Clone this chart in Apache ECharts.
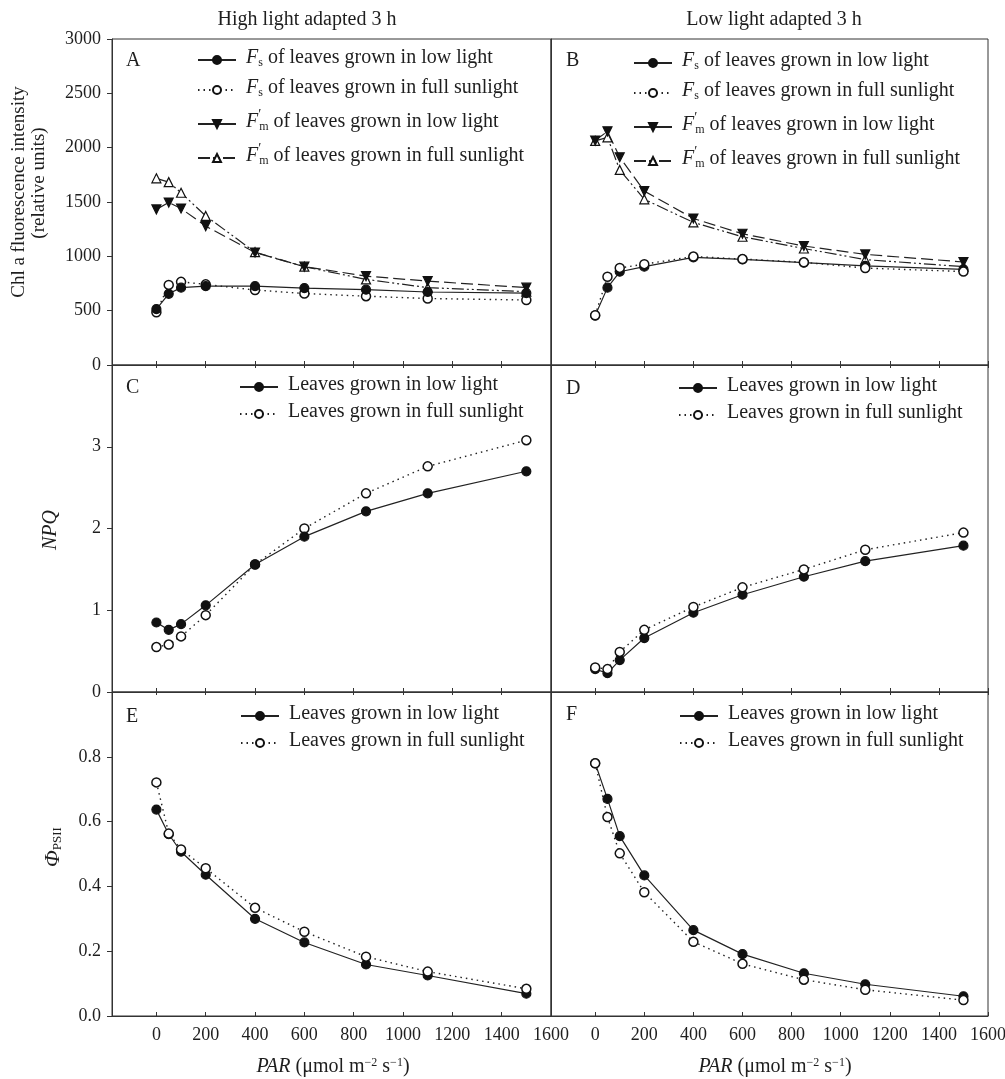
<!DOCTYPE html>
<html><head><meta charset="utf-8">
<script src="https://cdn.jsdelivr.net/npm/echarts@6/dist/echarts.min.js"></script>
<style>html,body{margin:0;padding:0;background:#fff}#c{width:1005px;height:1079px}</style>
</head><body><div id="c"></div>
<script>
// ---- data ----
const PAR = [0, 50, 100, 200, 400, 600, 850, 1100, 1500];
const xTicks = [0, 200, 400, 600, 800, 1000, 1200, 1400, 1600];
// Panel A (High light adapted) fluorescence
const A_fsLow  = [515, 655, 712, 725, 725, 708, 693, 672, 662];
const A_fsFull = [485, 737, 765, 742, 690, 658, 633, 612, 598];
const A_fmLow  = [1432, 1495, 1440, 1278, 1035, 905, 818, 772, 712];
const A_fmFull = [1718, 1683, 1585, 1372, 1038, 905, 788, 712, 675];
// Panel B (Low light adapted) fluorescence
const B_fsLow  = [455, 712, 858, 905, 990, 972, 942, 912, 880];
const B_fsFull = [458, 812, 893, 928, 998, 975, 945, 892, 860];
const B_fmLow  = [2065, 2150, 1912, 1600, 1348, 1208, 1095, 1018, 948];
const B_fmFull = [2062, 2095, 1795, 1525, 1312, 1180, 1072, 970, 905];
// NPQ
const C_low  = [0.85, 0.76, 0.83, 1.06, 1.56, 1.90, 2.21, 2.43, 2.70];
const C_full = [0.55, 0.58, 0.68, 0.94, 1.56, 2.00, 2.43, 2.76, 3.08];
const D_low  = [0.28, 0.23, 0.39, 0.66, 0.97, 1.19, 1.41, 1.60, 1.79];
const D_full = [0.30, 0.28, 0.49, 0.76, 1.04, 1.28, 1.50, 1.74, 1.95];
// PhiPSII
const E_low  = [0.637, 0.561, 0.507, 0.436, 0.300, 0.227, 0.159, 0.125, 0.069];
const E_full = [0.721, 0.563, 0.514, 0.456, 0.334, 0.260, 0.183, 0.137, 0.084];
const F_low  = [0.780, 0.670, 0.555, 0.434, 0.265, 0.191, 0.132, 0.098, 0.061];
const F_full = [0.780, 0.614, 0.502, 0.382, 0.229, 0.161, 0.112, 0.081, 0.049];

const FONT = 'Liberation Serif';
const INK = '#1e1e1e';
const pairs = arr => PAR.map((x, i) => [x, arr[i]]);

const legendText = {
  fsLow:  '{i|F}{s|s}{t| of leaves grown in low light}',
  fsFull: '{i|F}{s|s}{t| of leaves grown in full sunlight}',
  fmLow:  '{i|F}{p|′}{s|m}{t| of leaves grown in low light}',
  fmFull: '{i|F}{p|′}{s|m}{t| of leaves grown in full sunlight}',
  low:    '{t|Leaves grown in low light}',
  full:   '{t|Leaves grown in full sunlight}'
};

const grids = [
  {left: 112, top: 39, width: 439, height: 326},
  {left: 551, top: 39, width: 437, height: 326},
  {left: 112, top: 365, width: 439, height: 327},
  {left: 551, top: 365, width: 437, height: 327},
  {left: 112, top: 692, width: 439, height: 324},
  {left: 551, top: 692, width: 437, height: 324}
].map(g => Object.assign({show: true, borderColor: '#333', borderWidth: 1, backgroundColor: 'transparent', containLabel: false, outerBoundsMode: 'none'}, g));

const xAxes = [];
for (let g = 0; g < 6; g++) {
  const bottomRow = g >= 4;
  xAxes.push({
    type: 'value', gridIndex: g, min: -180, max: 1600, position: 'bottom',
    axisLine: {show: true, onZero: false, lineStyle: {color: '#333', width: 1}},
    axisTick: {show: true, inside: true, length: 4, customValues: xTicks, lineStyle: {color: '#333'}},
    axisLabel: {show: bottomRow, customValues: xTicks, fontFamily: FONT, fontSize: 18, color: INK, margin: 10, formatter: v => String(v)},
    splitLine: {show: false}
  });
  if (g >= 2) {
    xAxes.push({
      type: 'value', gridIndex: g, min: -180, max: 1600, position: 'top',
      axisLine: {show: false, onZero: false},
      axisTick: {show: true, inside: true, length: 3, customValues: xTicks, lineStyle: {color: '#333'}},
      axisLabel: {show: false}, splitLine: {show: false}
    });
  }
}
// map grid -> bottom xAxis index
const xIdx = [0, 1, 2, 4, 6, 8];

const yRanges = [
  {min: 0, max: 3000, interval: 500},
  {min: 0, max: 4, interval: 1},
  {min: 0, max: 1, interval: 0.2}
];
const yAxes = [];
for (let g = 0; g < 6; g++) {
  const r = yRanges[Math.floor(g / 2)];
  const left = g % 2 === 0;
  const row = Math.floor(g / 2);
  yAxes.push({
    type: 'value', gridIndex: g, min: r.min, max: r.max, interval: r.interval, position: 'left',
    axisLine: {show: true, onZero: false, lineStyle: {color: '#333', width: 1}},
    axisTick: {show: left, inside: false, length: 5, lineStyle: {color: '#333'}},
    axisLabel: {
      show: left, fontFamily: FONT, fontSize: 18, color: INK, margin: 11,
      showMaxLabel: row === 0,
      formatter: row === 2 ? (v => v.toFixed(1)) : (v => String(v))
    },
    splitLine: {show: false}
  });
}

function mk(name, g, arr, kind) {
  const s = {
    name: name, type: 'line', xAxisIndex: xIdx[g], yAxisIndex: g, data: pairs(arr),
    symbolSize: 9, z: 3, animation: false,
    lineStyle: {color: '#222', width: 1.2},
    itemStyle: {color: '#111', borderColor: '#111', borderWidth: 1.2}
  };
  if (kind === 'filledCircle') { s.symbol = 'circle'; s.lineStyle.type = 'solid'; }
  if (kind === 'openCircle') { s.symbol = 'circle'; s.symbolSize = 9; s.itemStyle = {color: '#fff', borderColor: '#111', borderWidth: 1.5}; s.lineStyle.type = [1.5, 4]; s.lineStyle.width = 1.4; }
  if (kind === 'downTri') { s.symbol = 'triangle'; s.symbolRotate = 180; s.symbolSize = 9; s.lineStyle.type = [12, 5]; }
  if (kind === 'upTri') { s.symbol = 'triangle'; s.symbolSize = 9; s.itemStyle = {color: '#fff', borderColor: '#111', borderWidth: 1.2}; s.lineStyle.type = [12, 3, 2, 3, 2, 3]; }
  return s;
}

const series = [
  mk('A_fmFull', 0, A_fmFull, 'upTri'),
  mk('A_fmLow', 0, A_fmLow, 'downTri'),
  mk('A_fsFull', 0, A_fsFull, 'openCircle'),
  mk('A_fsLow', 0, A_fsLow, 'filledCircle'),
  mk('B_fmFull', 1, B_fmFull, 'upTri'),
  mk('B_fmLow', 1, B_fmLow, 'downTri'),
  mk('B_fsLow', 1, B_fsLow, 'filledCircle'),
  mk('B_fsFull', 1, B_fsFull, 'openCircle'),
  mk('C_full', 2, C_full, 'openCircle'),
  mk('C_low', 2, C_low, 'filledCircle'),
  mk('D_low', 3, D_low, 'filledCircle'),
  mk('D_full', 3, D_full, 'openCircle'),
  mk('E_low', 4, E_low, 'filledCircle'),
  mk('E_full', 4, E_full, 'openCircle'),
  mk('F_low', 5, F_low, 'filledCircle'),
  mk('F_full', 5, F_full, 'openCircle')
];

const rich = {
  i: {fontFamily: FONT, fontSize: 20, fontStyle: 'italic', color: INK, verticalAlign: 'top', lineHeight: 24},
  s: {fontFamily: FONT, fontSize: 12, color: INK, verticalAlign: 'top', lineHeight: 24, padding: [9, 0, 0, 0]},
  p: {fontFamily: FONT, fontSize: 14, color: INK, verticalAlign: 'top', lineHeight: 24, padding: [-4, 0, 0, 0], width: 1},
  t: {fontFamily: FONT, fontSize: 20, color: INK, verticalAlign: 'top', lineHeight: 24}
};
function legend(names, left, top, gap) {
  return {
    data: names.map(n => n.endsWith('fmLow') ? {name: n, lineStyle: {type: 'solid'}} : {name: n}),
    orient: 'vertical', left: left, top: top, padding: 0,
    itemWidth: 38, itemHeight: 10, itemGap: gap, selectedMode: false,
    textStyle: {fontFamily: FONT, fontSize: 20, color: INK, padding: [0, 0, 0, 5], rich: rich},
    formatter: n => legendText[n.split('_')[1]]
  };
}
const legends = [
  legend(['A_fsLow', 'A_fsFull', 'A_fmLow', 'A_fmFull'], 197, 48, 9),
  legend(['B_fsLow', 'B_fsFull', 'B_fmLow', 'B_fmFull'], 633, 51, 9),
  legend(['C_low', 'C_full'], 239, 375, 7),
  legend(['D_low', 'D_full'], 678, 376, 7),
  legend(['E_low', 'E_full'], 240, 704, 7),
  legend(['F_low', 'F_full'], 679, 704, 7)
];

function txt(x, y, text, extra) {
  return Object.assign({type: 'text', x: x, y: y, style: Object.assign({text: text, fontFamily: FONT, fontSize: 20, fill: INK, align: 'left', verticalAlign: 'middle'}, extra || {})});
}
const gRich = {
  i: {fontFamily: FONT, fontSize: 20, fontStyle: 'italic', fill: INK, verticalAlign: 'top', lineHeight: 22},
  t: {fontFamily: FONT, fontSize: 20, fill: INK, verticalAlign: 'top', lineHeight: 22},
  sup: {fontFamily: FONT, fontSize: 12, fill: INK, verticalAlign: 'top', lineHeight: 22, padding: [0, 0, 0, 0]},
  sub: {fontFamily: FONT, fontSize: 13, fill: INK, verticalAlign: 'top', lineHeight: 22, padding: [9, 0, 0, 0]},
  big: {fontFamily: FONT, fontSize: 22, fontStyle: 'italic', fill: INK, verticalAlign: 'top', lineHeight: 22}
};
const graphics = [
  txt(307, 20, 'High light adapted 3 h', {align: 'center'}),
  txt(774, 20, 'Low light adapted 3 h', {align: 'center'}),
  txt(126, 61, 'A'), txt(566, 61, 'B'),
  txt(126, 388, 'C'), txt(566, 389, 'D'),
  txt(126, 717, 'E'), txt(566, 715, 'F'),
  {type: 'text', x: 19, y: 192, rotation: Math.PI / 2, style: {text: 'Chl a fluorescence intensity', fontFamily: FONT, fontSize: 19, fill: INK, align: 'center', verticalAlign: 'middle'}},
  {type: 'text', x: 39, y: 183, rotation: Math.PI / 2, style: {text: '(relative units)', fontFamily: FONT, fontSize: 19, fill: INK, align: 'center', verticalAlign: 'middle'}},
  {type: 'text', x: 51, y: 530, rotation: Math.PI / 2, style: {text: 'NPQ', fontFamily: FONT, fontSize: 20, fontStyle: 'italic', fill: INK, align: 'center', verticalAlign: 'middle'}},
  {type: 'text', x: 53, y: 847, rotation: Math.PI / 2, style: {text: '{big|Φ}{sub|PSII}', rich: gRich, fontFamily: FONT, fontSize: 19, fill: INK, align: 'center', verticalAlign: 'middle'}},
  {type: 'text', x: 333, y: 1068, style: {text: '{i|PAR}{t| (μmol m}{sup|−2}{t| s}{sup|−1}{t|)}', rich: gRich, fontFamily: FONT, fontSize: 20, fill: INK, align: 'center', verticalAlign: 'middle'}},
  {type: 'text', x: 775, y: 1068, style: {text: '{i|PAR}{t| (μmol m}{sup|−2}{t| s}{sup|−1}{t|)}', rich: gRich, fontFamily: FONT, fontSize: 20, fill: INK, align: 'center', verticalAlign: 'middle'}}
];

const chart = echarts.init(document.getElementById('c'), null, {renderer: 'canvas'});
chart.setOption({
  animation: false,
  backgroundColor: '#fff',
  grid: grids, xAxis: xAxes, yAxis: yAxes, series: series, legend: legends,
  graphic: graphics
});
</script></body></html>
